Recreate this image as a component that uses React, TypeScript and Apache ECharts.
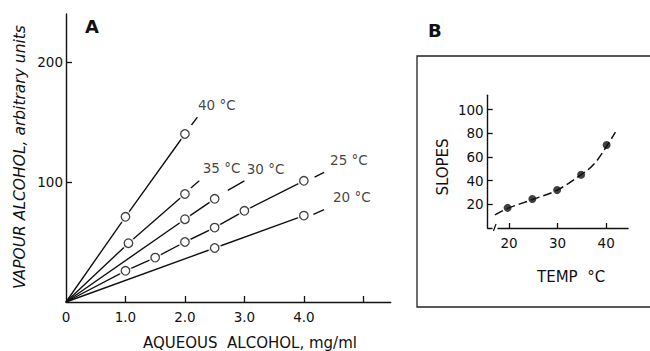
import React, { useEffect, useRef } from 'react';
import * as echarts from 'echarts';

// ---------- Panel A data ----------
const tempLabels = ['20 °C', '25 °C', '30 °C', '35 °C', '40 °C'];
const pts20 = [[2.5, 45], [4.0, 72]];
const pts25 = [[1.0, 26], [1.5, 37], [2.0, 50], [2.5, 62], [3.0, 76], [4.0, 101]];
const pts30 = [[2.0, 69], [2.5, 86]];
const pts35 = [[1.05, 49], [2.0, 90]];
const pts40 = [[1.0, 71], [2.0, 140]];
const ext20 = [[4.16, 73], [4.34, 77]];
const ext25 = [[4.18, 104], [4.34, 108]];
const ext30 = [[2.72, 93], [3.0, 101]];
const ext35 = [[2.1, 95], [2.24, 101]];
const ext40 = [[2.11, 147.5], [2.21, 154]];
const labelAnchors = [[4.49, 87.5], [4.44, 118], [3.04, 111], [2.3, 112], [2.22, 164]];
const origin = [0, 0];
const xTicksA = [1, 2, 3, 4, 5];
const xLabelsA = [0, 1, 2, 3, 4];
const yTicksA = [100, 200];

// ---------- Panel B data ----------
const bTemp = [19.7, 24.8, 29.9, 34.85, 40.1];
const bSlope = [17, 24.5, 32, 45, 70];
const curveTemp = [17.1, 19.7, 24.8, 29.9, 34.85, 37.5, 40.1, 41.9];
const curveSlope = [11, 16.5, 24, 32, 45, 54, 69, 81];
const xTicksB = [20, 30, 40];
const yTicksB = [20, 40, 60, 80, 100];

const INK = '#111111';
const FONT = 'DejaVu Sans';

export default function App() {
  const ref = useRef<HTMLDivElement>(null);

  useEffect(() => {
    const chart = echarts.init(ref.current!, null, { renderer: 'svg' });

    const groups = [
      { pts: pts20, ext: ext20 },
      { pts: pts25, ext: ext25 },
      { pts: pts30, ext: ext30 },
      { pts: pts35, ext: ext35 },
      { pts: pts40, ext: ext40 },
    ];
    const allPts = groups.flatMap((g) => g.pts);

    const seriesA: any[] = [];
    groups.forEach((g, i) => {
      seriesA.push({
        type: 'line',
        xAxisIndex: 0,
        yAxisIndex: 0,
        data: [origin, ...g.pts],
        symbol: 'none',
        lineStyle: { color: INK, width: 1.4 },
        z: 2,
        silent: true,
      });
      seriesA.push({
        type: 'line',
        xAxisIndex: 0,
        yAxisIndex: 0,
        data: g.ext,
        symbol: 'none',
        lineStyle: { color: INK, width: 1.4 },
        z: 2,
        silent: true,
      });
      seriesA.push({
        type: 'scatter',
        xAxisIndex: 0,
        yAxisIndex: 0,
        data: [labelAnchors[i]],
        symbolSize: 0,
        label: {
          show: true,
          position: 'right',
          distance: 0,
          formatter: tempLabels[i],
          color: INK,
          fontSize: 13.5,
          fontFamily: FONT,
        },
        z: 5,
        silent: true,
      });
    });
    seriesA.push({
      type: 'scatter',
      xAxisIndex: 0,
      yAxisIndex: 0,
      data: allPts,
      symbol: 'circle',
      symbolSize: 13,
      itemStyle: { color: '#ffffff' },
      z: 3,
      silent: true,
    });
    seriesA.push({
      type: 'scatter',
      xAxisIndex: 0,
      yAxisIndex: 0,
      data: allPts,
      symbol: 'circle',
      symbolSize: 8.5,
      itemStyle: { color: '#ffffff', borderColor: INK, borderWidth: 1.3 },
      z: 4,
      silent: true,
    });

    const seriesB: any[] = [
      {
        type: 'line',
        xAxisIndex: 1,
        yAxisIndex: 1,
        data: curveTemp.map((t, i) => [t, curveSlope[i]]),
        smooth: 0.4,
        symbol: 'none',
        lineStyle: { color: INK, width: 1.5, type: [9, 4] },
        z: 2,
        silent: true,
      },
      {
        type: 'scatter',
        xAxisIndex: 1,
        yAxisIndex: 1,
        data: bTemp.map((t, i) => [t, bSlope[i]]),
        symbol: 'circle',
        symbolSize: 8,
        itemStyle: { color: INK },
        z: 3,
        silent: true,
      },
    ];

    const axisLine = { show: true, onZero: false, lineStyle: { color: INK, width: 1.4 } };
    const labelBase = { color: INK, fontSize: 13.5, fontFamily: FONT };

    const option: any = {
      animation: false,
      backgroundColor: '#ffffff',
      grid: [
        { left: 66, top: 14, right: 259.3, bottom: 49 },
        { left: 487.7, top: 95.3, right: 22, bottom: 123 },
      ],
      xAxis: [
        {
          type: 'value',
          gridIndex: 0,
          min: 0,
          max: 5.46,
          axisLine,
          splitLine: { show: false },
          axisTick: { show: true, inside: true, length: 6, customValues: xTicksA, lineStyle: { color: INK, width: 1.3 } },
          axisLabel: {
            ...labelBase,
            margin: 8,
            customValues: xLabelsA,
            showMinLabel: true,
            formatter: (v: number) => (v === 0 ? '0' : v.toFixed(1)),
          },
        },
        {
          type: 'value',
          gridIndex: 1,
          min: 15.6,
          max: 44.5,
          axisLine,
          splitLine: { show: false },
          axisTick: { show: true, inside: true, length: 5, customValues: xTicksB, lineStyle: { color: INK, width: 1.3 } },
          axisLabel: { ...labelBase, margin: 8, customValues: xTicksB },
        },
      ],
      yAxis: [
        {
          type: 'value',
          gridIndex: 0,
          min: 0,
          max: 240,
          axisLine,
          splitLine: { show: false },
          axisTick: { show: true, inside: true, length: 6, customValues: yTicksA, lineStyle: { color: INK, width: 1.3 } },
          axisLabel: { ...labelBase, margin: 3, customValues: yTicksA },
        },
        {
          type: 'value',
          gridIndex: 1,
          min: 0,
          max: 112,
          axisLine,
          splitLine: { show: false },
          axisTick: { show: true, inside: true, length: 5, customValues: yTicksB, lineStyle: { color: INK, width: 1.3 } },
          axisLabel: { ...labelBase, margin: 4, customValues: yTicksB },
        },
      ],
      series: [...seriesA, ...seriesB],
      graphic: [
        {
          type: 'rect',
          shape: { x: 417, y: 56, width: 260, height: 251 },
          style: { fill: 'none', stroke: '#222', lineWidth: 1.3 },
          z: 1,
          silent: true,
        },
        {
          type: 'rect',
          shape: { x: 492.5, y: 225, width: 5, height: 6 },
          style: { fill: '#ffffff' },
          z: 100,
          silent: true,
        },
        {
          type: 'line',
          shape: { x1: 493.5, y1: 231, x2: 496, y2: 224 },
          style: { stroke: INK, lineWidth: 1.2 },
          z: 101,
          silent: true,
        },
        {
          type: 'text',
          x: 85,
          y: 17,
          style: { text: 'A', font: `bold 18px ${FONT}`, fill: INK },
          z: 10,
        },
        {
          type: 'text',
          x: 428,
          y: 21,
          style: { text: 'B', font: `bold 18px ${FONT}`, fill: INK },
          z: 10,
        },
        {
          type: 'text',
          x: 143,
          y: 343,
          style: { text: 'AQUEOUS  ALCOHOL, mg/ml', font: `15px ${FONT}`, fill: INK, verticalAlign: 'middle' },
          z: 10,
        },
        {
          type: 'text',
          x: 20,
          y: 157,
          rotation: Math.PI / 2,
          style: {
            text: 'VAPOUR ALCOHOL, arbitrary units',
            font: `italic 15.5px ${FONT}`,
            fill: INK,
            align: 'center',
            verticalAlign: 'middle',
          },
          z: 10,
        },
        {
          type: 'text',
          x: 537,
          y: 277,
          style: { text: 'TEMP  °C', font: `15px ${FONT}`, fill: INK, verticalAlign: 'middle' },
          z: 10,
        },
        {
          type: 'text',
          x: 443,
          y: 167,
          rotation: Math.PI / 2,
          style: { text: 'SLOPES', font: `15px ${FONT}`, fill: INK, align: 'center', verticalAlign: 'middle' },
          z: 10,
        },
      ],
    };

    chart.setOption(option);
    return () => chart.dispose();
  }, []);

  return <div ref={ref} style={{ position: 'fixed', left: 0, top: 0, width: 650, height: 351 }} />;
}
